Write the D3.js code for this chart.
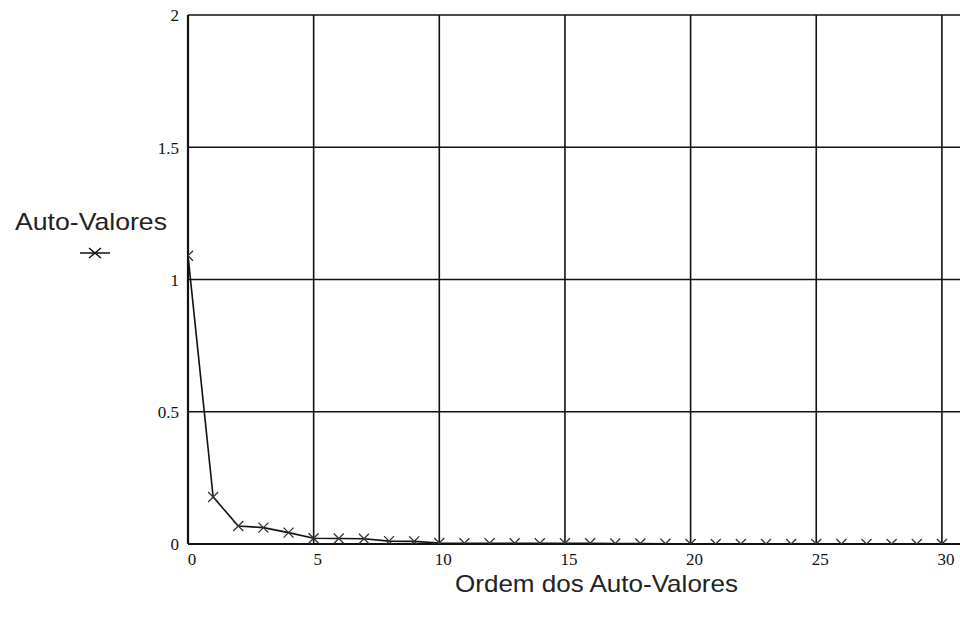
<!DOCTYPE html>
<html><head><meta charset="utf-8">
<script src="https://cdn.jsdelivr.net/npm/d3@7"></script>
<style>body{margin:0;background:#fff}svg{display:block}</style>
</head><body>
<script>
const orders = d3.range(0, 31);
const eigenvalues = [1.09, 0.178, 0.068, 0.062, 0.043, 0.022, 0.021, 0.02, 0.011, 0.01,
  0.004, 0.003, 0.003, 0.003, 0.003, 0.003, 0.003, 0.002, 0.002, 0.001,
  0, 0, 0, 0, 0, 0, 0, 0, 0, 0, 0];
const xTicks = [0, 5, 10, 15, 20, 25, 30];
const yTicks = [0, 0.5, 1, 1.5, 2];
const xTitle = "Ordem dos Auto-Valores";
const yTitle = "Auto-Valores";

const W = 960, H = 617;
const svg = d3.select("body").append("svg").attr("width", W).attr("height", H);

const x = d3.scaleLinear().domain([0, 31]).range([188, 188 + 31 * 25.13]);
const y = d3.scaleLinear().domain([0, 2]).range([544, 15]);

const ink = "#111";
// grid lines
svg.append("g").selectAll("line.v").data(xTicks.filter(d => d > 0)).join("line")
  .attr("x1", d => x(d)).attr("x2", d => x(d)).attr("y1", y(2)).attr("y2", y(0))
  .attr("stroke", ink).attr("stroke-width", 1.6);
svg.append("g").selectAll("line.h").data(yTicks.filter(d => d > 0)).join("line")
  .attr("x1", x(0)).attr("x2", x(31)).attr("y1", d => y(d)).attr("y2", d => y(d))
  .attr("stroke", ink).attr("stroke-width", 1.6);
// axes borders
svg.append("line").attr("x1", x(0)).attr("x2", x(0)).attr("y1", y(2)).attr("y2", y(0))
  .attr("stroke", ink).attr("stroke-width", 2.2);
svg.append("line").attr("x1", x(0)).attr("x2", x(31)).attr("y1", y(0)).attr("y2", y(0))
  .attr("stroke", ink).attr("stroke-width", 2.2);

// tick labels
svg.append("g").selectAll("text").data(yTicks).join("text")
  .attr("x", 179).attr("y", d => y(d)).attr("dy", "0.38em")
  .attr("text-anchor", "end").attr("font-family", "Liberation Serif, serif")
  .attr("font-size", 17).attr("fill", ink).text(d => d);
svg.append("g").selectAll("text").data(xTicks).join("text")
  .attr("x", d => x(d) + 4).attr("y", 565)
  .attr("text-anchor", "middle").attr("font-family", "Liberation Serif, serif")
  .attr("font-size", 17).attr("fill", ink).text(d => d);

// titles
svg.append("text").attr("x", 15).attr("y", 230)
  .attr("textLength", 152).attr("lengthAdjust", "spacingAndGlyphs")
  .attr("font-family", "Liberation Sans, Arial, sans-serif").attr("font-size", 24)
  .attr("fill", "#222").text(yTitle);
svg.append("text").attr("x", 455).attr("y", 592)
  .attr("textLength", 283).attr("lengthAdjust", "spacingAndGlyphs")
  .attr("font-family", "Liberation Sans, Arial, sans-serif").attr("font-size", 24)
  .attr("fill", "#222").text(xTitle);

// legend symbol
const lg = svg.append("g").attr("transform", "translate(95,253)");
lg.append("line").attr("x1", -15).attr("x2", 15).attr("stroke", ink).attr("stroke-width", 1.5);
lg.append("path").attr("d", "M-6,-5L6,5M-6,5L6,-5").attr("stroke", ink).attr("stroke-width", 1.5);

// clip
svg.append("clipPath").attr("id", "clip").append("rect")
  .attr("x", x(0)).attr("y", y(2)).attr("width", x(31) - x(0)).attr("height", y(0) - y(2));

const data = orders.map((o, i) => ({o, v: eigenvalues[i]}));
const plot = svg.append("g").attr("clip-path", "url(#clip)");
plot.append("path").datum(data)
  .attr("d", d3.line().x(d => x(d.o)).y(d => y(d.v)))
  .attr("fill", "none").attr("stroke", ink).attr("stroke-width", 1.6);
plot.selectAll("path.m").data(data).join("path").attr("class", "m")
  .attr("d", d => `M${x(d.o) - 5},${y(d.v) - 5}L${x(d.o) + 5},${y(d.v) + 5}M${x(d.o) - 5},${y(d.v) + 5}L${x(d.o) + 5},${y(d.v) - 5}`)
  .attr("stroke", "#333").attr("stroke-width", 1.3).attr("fill", "none");
</script>
</body></html>
